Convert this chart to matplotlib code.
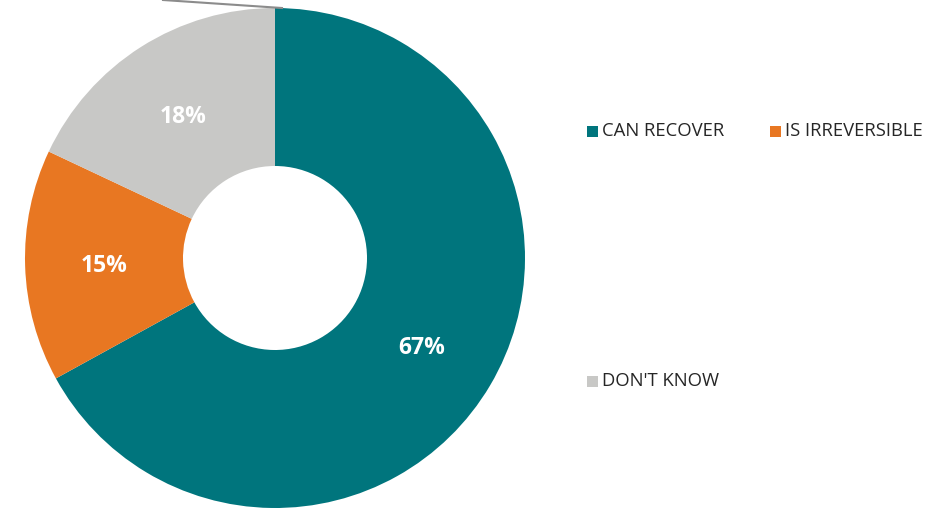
import matplotlib
matplotlib.use("Agg")
import matplotlib.pyplot as plt
from matplotlib.lines import Line2D
from matplotlib.patches import Rectangle

categories = ["CAN RECOVER", "IS IRREVERSIBLE", "DON'T KNOW"]
values = [67, 15, 18]
colors = ["#00757D", "#E87722", "#C8C8C6"]

W, H = 946, 508
fig = plt.figure(figsize=(W / 100, H / 100), dpi=100)
plt.rcParams['font.family'] = ['Open Sans', 'DejaVu Sans']

cx, cy, R = 275, 258, 250
ax = fig.add_axes([(cx - R) / W, (H - cy - R) / H, 2 * R / W, 2 * R / H])
inner = 0.368
wedges, texts, autotexts = ax.pie(
    values, colors=colors, startangle=90, counterclock=False,
    radius=1.0, wedgeprops=dict(width=1 - inner, linewidth=0),
    autopct=lambda p: f"{p:.0f}%", pctdistance=(1 + inner) / 2,
    textprops=dict(color="white", fontsize=16.5, fontweight="bold"))
for t in autotexts:
    x, y = t.get_position()
    t.set_position((x, y - 0.012))
ax.set_xlim(-1, 1)
ax.set_ylim(-1, 1)
ax.set_aspect("equal")
ax.axis("off")

# leader line artifact at the top
fig.add_artist(Line2D([163 / W, 282 / W], [1.0, 1 - 8 / H],
                      transform=fig.transFigure, color="#8C8C8C", lw=1.5))

# legend
legend_pos = [(587, 131), (770, 131), (587, 381)]
for (x, y), lab, col in zip(legend_pos, categories, colors):
    fig.add_artist(Rectangle((x / W, (H - y - 5.5) / H), 11 / W, 11 / H,
                             transform=fig.transFigure, color=col, lw=0))
    fig.text((x + 15) / W, (H - y) / H, lab, fontsize=13.3, color="#262626",
             va="center", ha="left")

fig.savefig("out.png", dpi=100)
